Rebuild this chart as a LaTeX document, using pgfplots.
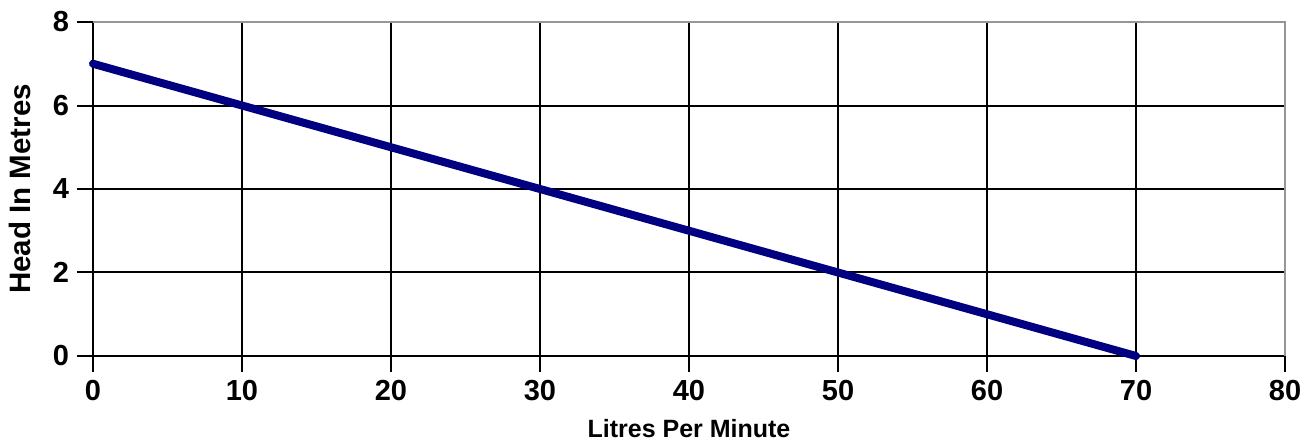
\documentclass[border=0pt]{standalone}
\usepackage{fontspec}
\setmainfont{Liberation Sans}
\usepackage{pgfplots}
\pgfplotsset{compat=1.18}
\definecolor{lineblue}{RGB}{0,0,128}
\definecolor{framegray}{RGB}{150,150,150}
\begin{document}
\begin{tikzpicture}
\path[use as bounding box] (-46.5pt,-43pt) rectangle (608.5pt,178pt);
\begin{axis}[
  at={(0,0)}, anchor=south west,
  scale only axis,
  width=596pt, height=167pt,
  xmin=0, xmax=80, ymin=0, ymax=8,
  xtick={0,10,...,80}, ytick={0,2,...,8},
  xtick pos=bottom, ytick pos=left,
  grid=major,
  grid style={black, line width=1pt},
  axis line style={black, line width=1pt},
  tick align=outside,
  major tick length=8pt,
  major tick style={black, line width=1pt},
  /pgf/number format/assume math mode=true,
  tick label style={font=\fontsize{14.5}{16}\selectfont\bfseries},
  xticklabel style={anchor=center, yshift=-9.5pt},
  yticklabel style={anchor=center, xshift=-8pt},
  xlabel={Litres Per Minute},
  ylabel={Head In Metres},
  xlabel style={font=\fontsize{12.5}{14}\selectfont\bfseries, at={(axis description cs:0.5,0)}, anchor=center, yshift=-36.5pt},
  ylabel style={font=\fontsize{14.75}{16}\selectfont\bfseries, at={(axis description cs:0,0.5)}, anchor=center, yshift=36.5pt},
  clip=false,
]
\addplot[lineblue, line width=4pt, line cap=round, line join=round] coordinates {
  (0,7) (10,6) (20,5) (30,4) (40,3) (50,2) (60,1) (70,0)
};
\draw[framegray, line width=1pt] (axis cs:0,8) -- (axis cs:80,8) -- (axis cs:80,0);
\end{axis}
\end{tikzpicture}
\end{document}
